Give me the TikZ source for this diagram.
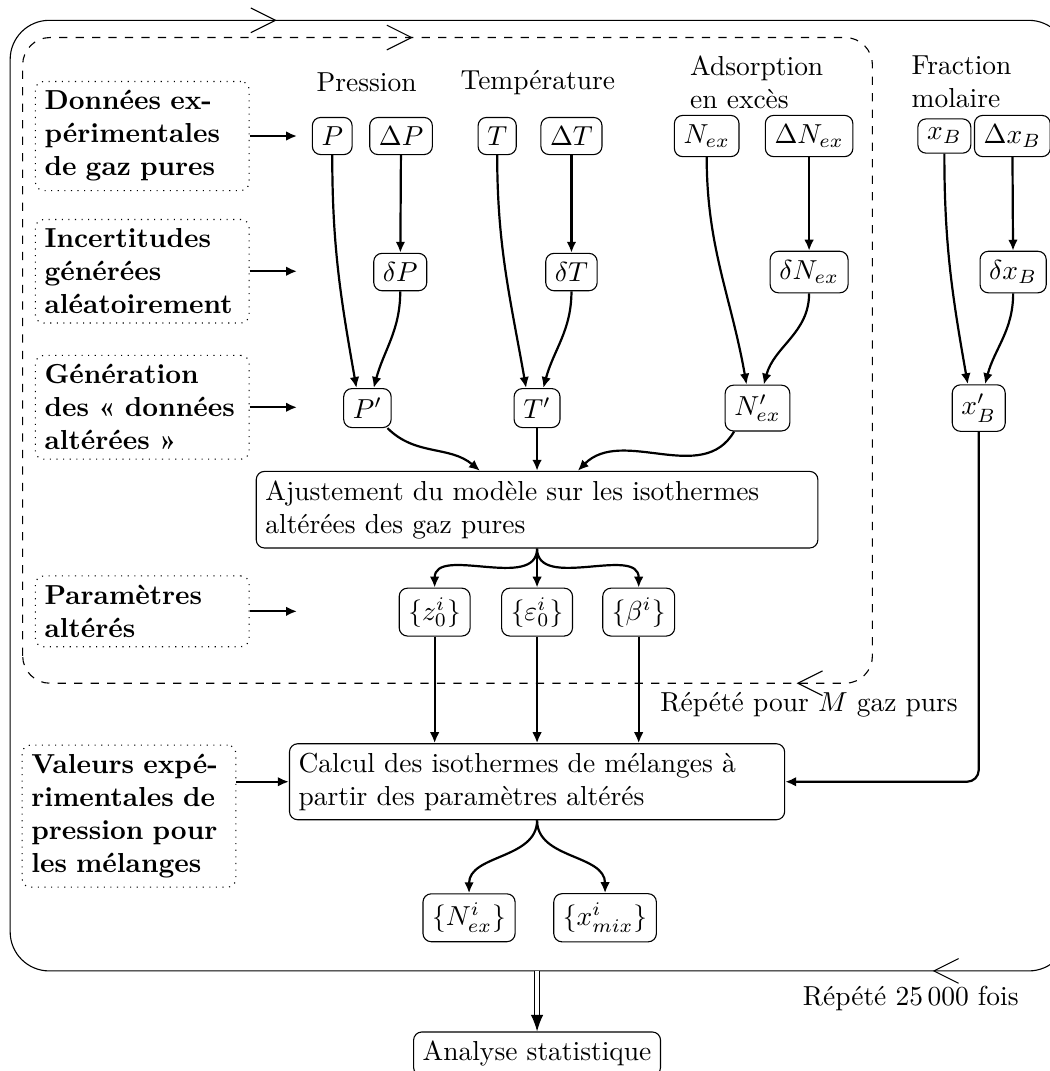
\documentclass[tikz,border=0pt]{standalone}
\usepackage{amsmath,amsfonts,amssymb}
\usepackage{tikz}
\usetikzlibrary{arrows.meta, calc, positioning}

\begin{document}
\begin{tikzpicture}[
        etape/.style={draw, rounded corners=3pt},
        legende/.style={draw, dotted, rounded corners=3pt, font=\bfseries, text width=2.5cm, align=left},
        boite/.style={draw, rounded corners=3pt, align=left},
        fleche/.style={thick, -{Latex[length=4pt, width=3.5pt]}},
        chevron/.style={-{Straight Barb[length=9pt, width=9pt]}}
    ]
    \useasboundingbox (0,0) rectangle (13.43,13.70);

    % boucles
    \draw[rounded corners=0.5cm] (0.13,1.28) rectangle (13.66,13.44);
    \draw[dashed, rounded corners=0.35cm] (0.29,4.96) rectangle (11.16,13.22);
    \draw[chevron] (3.50,13.44) -- (3.54,13.44);
    \draw[chevron] (11.97,1.28) -- (11.93,1.28);
    \draw[chevron] (5.24,13.22) -- (5.28,13.22);
    \draw[chevron] (10.23,4.96) -- (10.19,4.96);
    \node (repM) at (10.35,4.68) {Répété pour $M$ gaz purs};
    \node (rep25) at (11.65,0.93) {Répété 25\,000 fois};

    % legendes
    \node[legende] (donnees) at (1.82,11.96) {Données ex-\\périmentales\\de gaz pures};
    \node[legende] (incert) at (1.82,10.23) {Incertitudes\\générées\\aléatoirement};
    \node[legende] (generation) at (1.82,8.49) {Génération\\des «~données\\altérées~»};
    \node[legende] (param) at (1.82,5.88) {Paramètres\\altérés};
    \node[legende] (valeurs) at (1.65,3.26) {Valeurs expé-\\rimentales de\\pression pour\\les mélanges};

    \node (hP) at (4.69,12.65) {Pression};
    \node (hT) at (6.88,12.65) {Température};
    \node[align=left] (hN) at (9.68,12.65) {Adsorption\\en excès};
    \node[align=left] (hx) at (12.30,12.65) {Fraction\\molaire};

    \node[etape] (P) at (4.25,11.96) {$P$};
    \node[etape] (dP) at (5.13,11.96) {$\Delta P$};
    \node[etape] (T) at (6.36,11.96) {$T$};
    \node[etape] (dT) at (7.31,11.96) {$\Delta T$};
    \node[etape] (N) at (9.04,11.96) {$N_{ex}$};
    \node[etape] (dN) at (10.35,11.96) {$\Delta N_{ex}$};
    \node[etape] (x) at (12.08,11.96) {$x_B$};
    \node[etape] (dx) at (12.95,11.96) {$\Delta x_B$};

    \node[etape] (sP) at (5.12,10.22) {$\delta P$};
    \node[etape] (sT) at (7.31,10.22) {$\delta T$};
    \node[etape] (sN) at (10.35,10.22) {$\delta N_{ex}$};
    \node[etape] (sx) at (12.96,10.22) {$\delta x_B$};

    \node[etape] (Pp) at (4.70,8.48) {$P'$};
    \node[etape] (Tp) at (6.87,8.48) {$T'$};
    \node[etape] (Np) at (9.69,8.48) {$N'_{ex}$};
    \node[etape] (xp) at (12.52,8.48) {$x'_B$};

    \node[boite, text width=6.95cm] (Ajust) at (6.87,7.18) {Ajustement du modèle sur les isothermes\\altérées des gaz pures};

    \node[etape] (z) at (5.56,5.87) {$\{z_0^i\}$};
    \node[etape] (eps) at (6.87,5.87) {$\{\varepsilon_0^i\}$};
    \node[etape] (beta) at (8.17,5.87) {$\{\beta^i\}$};

    \node[boite, text width=6.1cm] (Calc) at (6.87,3.70) {Calcul des isothermes de mélanges à\\partir des paramètres altérés};

    \node[etape] (Nmix) at (6.00,1.96) {$\{N_{ex}^i\}$};
    \node[etape] (xmix) at (7.74,1.96) {$\{x_{mix}^i\}$};

    \node[etape] (Analyse) at (6.87,0.22) {Analyse statistique};

    % fleches
    \coordinate (bout) at (3.80,0);
    \foreach \n in {donnees,incert,generation,param}
        \draw[fleche] (\n.east) -- (\n.east -| bout);
    \draw[fleche] (valeurs.east |- Calc.west) -- (Calc.west);

    \foreach \a/\b in {dP/sP, dT/sT, dN/sN, dx/sx}
        \draw[fleche] (\a) -- (\b);
    \foreach \a/\b in {P/Pp, T/Tp, N/Np, x/xp}
        \draw[fleche] (\a) to[out=-90, in=100] ([xshift=-0.14cm]\b.north);
    \foreach \a/\b in {sP/Pp, sT/Tp, sN/Np, sx/xp}
        \draw[fleche] (\a) to[out=-90, in=75] ([xshift=0.08cm]\b.north);

    \draw[fleche] (Pp.-45) to[out=-45, in=140] ([xshift=-0.73cm]Ajust.north);
    \draw[fleche] (Tp) -- (Tp |- Ajust.north);
    \draw[fleche] (Np.-135) to[out=-120, in=45] ([xshift=0.52cm]Ajust.north);

    \foreach \b in {z, eps, beta} {
        \draw[fleche] (Ajust.south) to[out=-90, in=90] (\b.north);
        \draw[fleche] (\b) -- (\b |- Calc.north);
    }
    \draw[fleche, rounded corners=0.15cm] (xp) |- (Calc.east);

    \foreach \b in {Nmix, xmix}
        \draw[fleche] (Calc.south) to[out=-90, in=90] (\b.north);

    \coordinate (sortie) at (6.87,1.28);
    \draw[double, double distance=1.5pt, -{Latex[length=6pt, width=4.5pt]}] (sortie) -- (Analyse.north);
\end{tikzpicture}
\end{document}
